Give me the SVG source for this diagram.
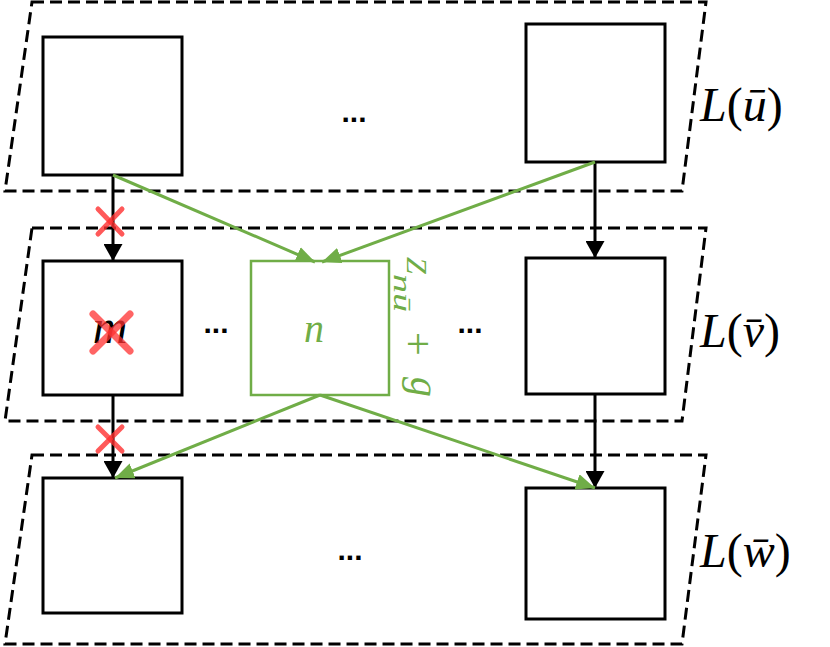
<svg xmlns="http://www.w3.org/2000/svg" width="830" height="647" viewBox="0 0 830 647">
<style>
.layer{fill:none;stroke:#000;stroke-width:3;stroke-dasharray:12 6}
.box{fill:#fff;stroke:#000;stroke-width:3}
.gbox{fill:#fff;stroke:#70AD47;stroke-width:2.5}
.blk{stroke:#000;stroke-width:3;fill:none}
.grn{stroke:#70AD47;stroke-width:3;fill:none}
.xmark{stroke:#FF3030;stroke-opacity:0.8;stroke-width:5;stroke-linecap:round}
.xbig{stroke:#FF3030;stroke-opacity:0.75;stroke-width:7;stroke-linecap:round}
.lbl{font-family:"Liberation Serif","DejaVu Serif",serif;font-size:48px;fill:#000}
.it{font-style:italic}
.gt{font-family:"Liberation Serif","DejaVu Serif",serif;fill:#70AD47}
.dots{font-family:"Liberation Sans",Arial,sans-serif;font-size:30px;font-weight:bold;fill:#000;text-anchor:middle}
</style>
<defs>
<marker id="ab" viewBox="0 0 17 19" markerWidth="17" markerHeight="19" refX="17" refY="9.5" orient="auto" markerUnits="userSpaceOnUse"><path d="M0,0 L17,9.5 L0,19 z" fill="#000"/></marker>
<marker id="ag" viewBox="0 0 19 16" markerWidth="19" markerHeight="16" refX="19" refY="8" orient="auto" markerUnits="userSpaceOnUse"><path d="M0,0 L19,8 L0,16 z" fill="#70AD47"/></marker>
</defs>

<g id="layers">
<path class="layer" d="M32,2 L706,2 L682,191 L5,191 Z"/>
<path class="layer" d="M32,228 L706,228 L682,421 L5,421 Z"/>
<path class="layer" d="M32,455 L706,455 L682,644 L5,644 Z"/>
</g>

<g id="node-u1"><rect class="box" x="43" y="37" width="139" height="138"/></g>
<g id="node-u2"><rect class="box" x="526" y="24" width="139" height="138"/></g>
<g id="node-m"><rect class="box" x="43" y="261" width="139" height="134"/>
<text x="110" y="343" class="lbl it" font-size="46" text-anchor="middle">m</text>
<line class="xbig" x1="93" y1="314" x2="130" y2="351"/><line class="xbig" x1="130" y1="314" x2="93" y2="351"/></g>
<g id="node-n"><rect class="gbox" x="251" y="261" width="138" height="134"/>
<text x="314" y="342" class="gt it" font-size="40" text-anchor="middle">n</text></g>
<g id="node-v2"><rect class="box" x="526" y="258" width="139" height="136"/></g>
<g id="node-w1"><rect class="box" x="43" y="478" width="139" height="135"/></g>
<g id="node-w2"><rect class="box" x="526" y="488" width="139" height="131"/></g>

<g id="connectors">
<line class="blk" x1="113" y1="175" x2="113" y2="261" marker-end="url(#ab)"/>
<line class="blk" x1="113" y1="395" x2="113" y2="478" marker-end="url(#ab)"/>
<line class="blk" x1="595" y1="162" x2="595" y2="258" marker-end="url(#ab)"/>
<line class="blk" x1="595" y1="394" x2="595" y2="488" marker-end="url(#ab)"/>
<line class="grn" x1="113" y1="175" x2="315" y2="262" marker-end="url(#ag)"/>
<line class="grn" x1="595" y1="162" x2="322" y2="262" marker-end="url(#ag)"/>
<line class="grn" x1="320" y1="395" x2="115" y2="478" marker-end="url(#ag)"/>
<line class="grn" x1="320" y1="395" x2="595" y2="488" marker-end="url(#ag)"/>
<line class="xmark" x1="98" y1="209" x2="122" y2="234"/><line class="xmark" x1="122" y1="209" x2="98" y2="234"/>
<line class="xmark" x1="98" y1="427" x2="122" y2="451"/><line class="xmark" x1="122" y1="427" x2="98" y2="451"/>
</g>

<g id="labels">
<text class="dots" x="354" y="122">...</text>
<text class="dots" x="216" y="333">...</text>
<text class="dots" x="470" y="333">...</text>
<text class="dots" x="350" y="560">...</text>
<text class="lbl" x="700" y="121"><tspan class="it">L</tspan>(<tspan class="it">ū</tspan>)</text>
<text class="lbl" x="700" y="347"><tspan class="it">L</tspan>(<tspan class="it">v̄</tspan>)</text>
<text class="lbl" x="700" y="567"><tspan class="it">L</tspan>(<tspan class="it">w̄</tspan>)</text>
<g transform="translate(407,257) rotate(90)">
<text class="gt it" x="0" y="0" font-size="30">Z</text>
<text class="gt it" x="17" y="13" font-size="26" textLength="38" lengthAdjust="spacingAndGlyphs">nū</text>
<text class="gt" x="75" y="3" font-size="42">+</text>
<text class="gt it" x="120" y="-4" font-size="40">g</text>
</g>
</g>
</svg>
